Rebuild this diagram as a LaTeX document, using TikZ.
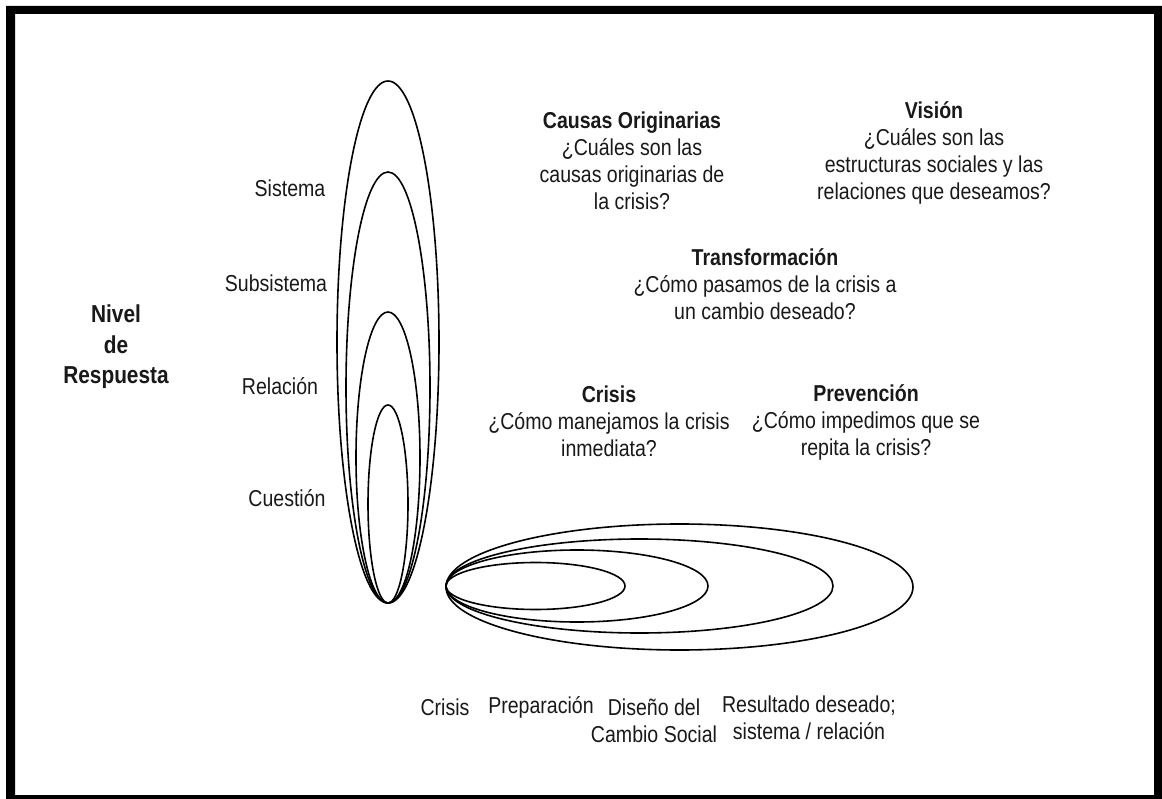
\documentclass[tikz,border=0pt]{standalone}
\usepackage{fontspec}
\setmainfont{Liberation Sans}[FakeStretch=0.85]
\begin{document}
\begin{tikzpicture}[x=1pt,y=-1pt,
  txt/.style={inner sep=0pt, align=center, text=black!90, font=\fontsize{23}{27}\selectfont},
  hd/.style={txt, font=\fontsize{23}{27}\selectfont\bfseries},
  loop/.style={draw=black, line width=1.6pt}]
\useasboundingbox (0,0) rectangle (1162,799);
\fill[white] (0,0) rectangle (1162,799);
% frame
\fill[black, even odd rule] (6,6) rectangle (1162,799) (15,14) rectangle (1154,795);
% vertical nested loops (share bottom point)
\draw[loop] (388,342) ellipse [x radius=51, y radius=261];
\draw[loop] (388,387.5) ellipse [x radius=42, y radius=215.5];
\draw[loop] (388,457.5) ellipse [x radius=32, y radius=145.5];
\draw[loop] (388,504) ellipse [x radius=20, y radius=99];
% horizontal nested loops (share left point)
\draw[loop] (679.5,587) ellipse [x radius=233.5, y radius=63];
\draw[loop] (639.5,586) ellipse [x radius=193.5, y radius=47];
\draw[loop] (577,586) ellipse [x radius=131, y radius=36];
\draw[loop] (535.5,586) ellipse [x radius=89.5, y radius=23.5];
% left labels
\node[hd, font=\fontsize{24.5}{30.5}\selectfont\bfseries] (nivel) at (116,347) {Nivel\\de\\Respuesta};
\node[txt] (sis) at (290,188) {Sistema};
\node[txt] (sub) at (276,283) {Subsistema};
\node[txt] (rel) at (280,386) {Relación};
\node[txt] (cue) at (287,498) {Cuestión};
% question blocks
\node[txt] (causas) at (632,161) {\textbf{Causas Originarias}\\¿Cuáles son las\\causas originarias de\\la crisis?};
\node[txt] (vision) at (934,153) {\textbf{Visión}\\¿Cuáles son las\\estructuras sociales y las\\relaciones que deseamos?};
\node[txt] (transf) at (765,284) {\textbf{Transformación}\\¿Cómo pasamos de la crisis a\\un cambio deseado?};
\node[txt] (crisisq) at (609,421) {\textbf{Crisis}\\¿Cómo manejamos la crisis\\inmediata?};
\node[txt] (prev) at (866,422) {\textbf{Prevención}\\¿Cómo impedimos que se\\repita la crisis?};
% bottom labels
\node[txt] (bcris) at (445,707) {Crisis};
\node[txt] (bprep) at (541,707) {Preparación};
\node[txt] (bdis) at (654,721) {Diseño del\\Cambio Social};
\node[txt] (bres) at (809,718) {Resultado deseado;\\sistema / relación};
\end{tikzpicture}
\end{document}
